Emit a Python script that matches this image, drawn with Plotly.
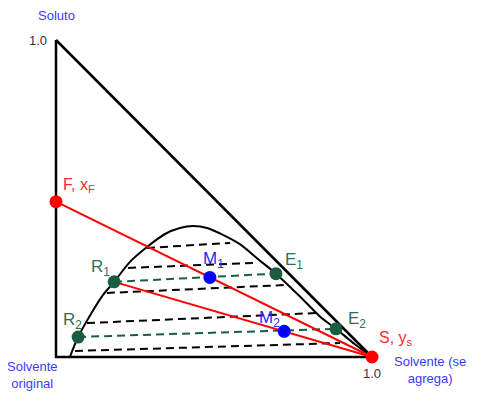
import plotly.graph_objects as go

# Triangle vertices (solvent fraction x, solute fraction y)
tri_x = [0.0, 0.0, 1.0, 0.0]
tri_y = [1.0, 0.0, 0.0, 1.0]

# Binodal (solubility) curve
curve_x = [0.044, 0.070, 0.110, 0.149, 0.184, 0.234, 0.288, 0.345, 0.392, 0.434,
           0.478, 0.525, 0.582, 0.639, 0.696, 0.772, 0.835, 0.886, 0.946, 1.0]
curve_y = [0.000, 0.063, 0.135, 0.196, 0.237, 0.300, 0.347, 0.388, 0.407, 0.413,
           0.407, 0.387, 0.356, 0.309, 0.263, 0.191, 0.128, 0.089, 0.040, 0.0]

# Black dashed tie lines (left end, right end)
tie_x0 = [0.288, 0.228, 0.161, 0.098, 0.060]
tie_y0 = [0.344, 0.281, 0.202, 0.107, 0.019]
tie_x1 = [0.551, 0.636, 0.725, 0.829, 0.899]
tie_y1 = [0.360, 0.297, 0.227, 0.139, 0.044]

# Key points
F = (0.0, 0.49)
S = (1.0, 0.0)
R1 = (0.184, 0.237)
R2 = (0.070, 0.063)
E1 = (0.696, 0.263)
E2 = (0.886, 0.089)
M1 = (0.487, 0.251)
M2 = (0.722, 0.081)

RED = "#ff0000"
BLUE = "#0000ff"
GREEN = "#1b5e3f"
GREEN_TXT = "#2f6f52"
AXBLUE = "#3a3aff"
FONT = "Liberation Sans, Arial, sans-serif"

fig = go.Figure()

# tie lines black
for i in range(len(tie_x0)):
    fig.add_trace(go.Scatter(x=[tie_x0[i], tie_x1[i]], y=[tie_y0[i], tie_y1[i]], mode="lines",
                             line=dict(color="black", width=2, dash="8px,5px"),
                             showlegend=False, hoverinfo="skip"))
# green tie lines
for a, b in [(R1, E1), (R2, E2)]:
    fig.add_trace(go.Scatter(x=[a[0], b[0]], y=[a[1], b[1]], mode="lines",
                             line=dict(color=GREEN, width=2, dash="8px,5px"),
                             showlegend=False, hoverinfo="skip"))

# triangle
fig.add_trace(go.Scatter(x=tri_x, y=tri_y, mode="lines", line=dict(color="black", width=2.5),
                         showlegend=False, hoverinfo="skip"))
# binodal
fig.add_trace(go.Scatter(x=curve_x, y=curve_y, mode="lines",
                         line=dict(color="black", width=2, shape="spline", smoothing=0.8),
                         showlegend=False, hoverinfo="skip"))

# red operating lines
for a, b in [(F, S), (R1, S)]:
    fig.add_trace(go.Scatter(x=[a[0], b[0]], y=[a[1], b[1]], mode="lines",
                             line=dict(color=RED, width=2), showlegend=False, hoverinfo="skip"))

# markers
def pts(points, color):
    fig.add_trace(go.Scatter(x=[p[0] for p in points], y=[p[1] for p in points], mode="markers",
                             marker=dict(color=color, size=13, line=dict(width=0)),
                             showlegend=False, hoverinfo="skip"))

pts([R1, R2, E1, E2], GREEN)
pts([M1, M2], BLUE)
pts([F, S], RED)

def lab(p, text, color, xs, ys, size=17, xanchor="left"):
    fig.add_annotation(x=p[0], y=p[1], text=text, showarrow=False, xanchor=xanchor, yanchor="middle",
                       xshift=xs, yshift=ys, font=dict(family=FONT, size=size, color=color))

lab(F, "F, x<sub>F</sub>", "#ff2a2a", 5, 16, size=16)
lab(S, "S, y<sub>s</sub>", "#ff2a2a", 5, 19, size=16)
lab(M1, "M<sub>1</sub>", "#2a2aff", -9, 17)
lab(M2, "M<sub>2</sub>", "#2a2aff", -27, 12)
lab(R1, "R<sub>1</sub>", GREEN_TXT, -25, 14)
lab(R2, "R<sub>2</sub>", GREEN_TXT, -17, 16)
lab(E1, "E<sub>1</sub>", GREEN_TXT, 7, 13)
lab(E2, "E<sub>2</sub>", GREEN_TXT, 10, 9)

# corner labels
lab((0, 1), "Soluto", AXBLUE, 0, 25, size=13, xanchor="center")
lab((0, 1), "1.0", "#333333", -18, 0, size=13, xanchor="center")
lab((0, 0), "Solvente<br>original", AXBLUE, -24, -18, size=13, xanchor="center")
lab((1, 0), "1.0", "#333333", 0, -16, size=13, xanchor="center")
lab((1, 0), "Solvente (se<br>agrega)", AXBLUE, 58, -13, size=13, xanchor="center")

# page has an 8px body margin, so the figure spans page pixels 8..482 and 8..400
fig.update_layout(
    width=474, height=392, margin=dict(l=0, r=0, t=0, b=0),
    paper_bgcolor="white", plot_bgcolor="white",
    xaxis=dict(range=[-48 / 316, 426 / 316], visible=False, fixedrange=True),
    yaxis=dict(range=[-43 / 317, 349 / 317], visible=False, fixedrange=True),
    font=dict(family=FONT),
)

fig.write_html("out.html")
